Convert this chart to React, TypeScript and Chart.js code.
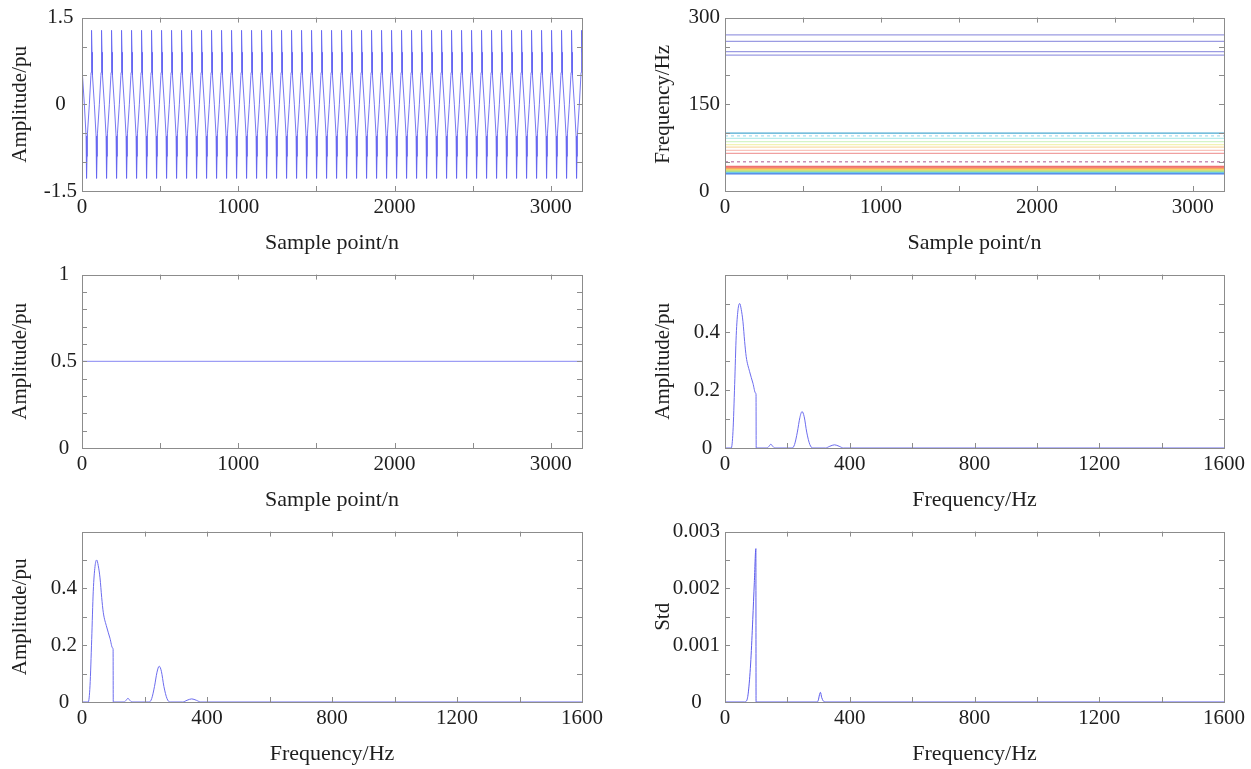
import React, { useEffect, useRef } from "react";
import { Chart, registerables } from "chart.js";

Chart.register(...registerables);

// ---------------- data ----------------
const sampleAxisMax = 3200;
const freqAxisMax = 1600;

// One period (64 samples) of the measured waveform; the signal repeats 50 times.
const wavePeriod = 64;
const waveCycles = 50;
const waveCycleOffsets = [0, 1, 2, 3, 4, 5, 15, 25, 26, 27, 28, 29, 30, 31, 32, 33, 34, 35, 36, 37, 47, 57, 58, 59, 60, 61, 62, 63];
const waveCycleValues = [0.9, 0.57, 0.56, 0.56, 0.55, 0.5, 0, -0.5, -0.55, -0.56, -0.56, -0.57, -0.9, -1.28, -0.9, -0.57, -0.56, -0.56, -0.55, -0.5, 0, 0.5, 0.55, 0.56, 0.56, 0.57, 0.9, 1.28];

// Middle-left: constant amplitude
const constSamples = [0, 3200];
const constValues = [0.5, 0.5];

// Top-right: frequency traces (Hz)
const freqUpper = [270, 259, 241, 235];
const freqUpperColor = "#9b9be2";
const freqLower = [100, 95.5, 91, 85.4, 80.3, 75.8, 70.2, 65.2, 50.6, 42.1, 39.3, 37.1, 34.8, 32.6, 30.3];
const freqLowerColors = ["#4aa8d0", "#a8e0f0", "#b8ecec", "#d4f4c8", "#f2f2b4", "#f8dca8", "#f8c4bc", "#f0a0a0", "#c890b8", "#f07070", "#f8a860", "#f0e070", "#a8e090", "#70c8e8", "#5080e8"];
const freqLowerDashed = [false, true, false, false, false, false, false, false, true, false, false, false, false, false, false];

// Amplitude spectrum (Hz, pu)
const specFreq = [0, 20, 25.6, 31, 36, 41.6, 47, 52, 57.6, 63, 68, 79, 89.6, 98, 99.5, 100, 135, 141, 147, 153, 160, 215, 223, 232, 240, 247, 254, 262, 272, 282, 322, 336, 351, 366, 380, 1600];
const specAmp = [0, 0, 0.057, 0.22, 0.39, 0.477, 0.5, 0.48, 0.437, 0.368, 0.316, 0.264, 0.224, 0.19, 0.187, 0, 0, 0.006, 0.013, 0.006, 0, 0, 0.012, 0.055, 0.105, 0.126, 0.108, 0.055, 0.012, 0, 0, 0.006, 0.011, 0.006, 0, 0];

// Standard deviation spectrum
const stdFreq = [0, 62, 70, 76, 83, 89, 94, 99, 99.6, 296, 300, 303, 306, 310, 315, 320, 1600];
const stdVal = [0, 0, 0.00003, 0.00023, 0.00075, 0.00145, 0.0021, 0.0027, 0, 0, 0.00005, 0.00013, 0.00017, 0.00008, 0.00002, 0, 0];

// Tick positions and the labelled subset
const sampleTicks = [0, 500, 1000, 1500, 2000, 2500, 3000];
const sampleTickLabels = [0, 1000, 2000, 3000];
const freqTicks = [0, 200, 400, 600, 800, 1000, 1200, 1400, 1600];
const freqTickLabels = [0, 400, 800, 1200, 1600];
const waveTicks = [-1.5, -1, -0.5, 0, 0.5, 1, 1.5];
const waveTickLabels = [-1.5, 0, 1.5];
const freqHzTicks = [0, 50, 100, 150, 200, 250, 300];
const freqHzTickLabels = [0, 150, 300];
const constTicks = [0, 0.1, 0.2, 0.3, 0.4, 0.5, 0.6, 0.7, 0.8, 0.9, 1];
const constTickLabels = [0, 0.5, 1];
const specTicks = [0, 0.1, 0.2, 0.3, 0.4, 0.5, 0.6];
const specTickLabels = [0, 0.2, 0.4];
const stdTicks = [0, 0.0005, 0.001, 0.0015, 0.002, 0.0025, 0.003];
const stdTickLabels = [0, 0.001, 0.002, 0.003];

// ---------------- styling ----------------
const FONT = "'Liberation Serif', 'Times New Roman', serif";
const TEXT = "#1e1e1e";
const BOX = "#8c8c8c";

const boxPlugin = {
  id: "matlabBox",
  afterDatasetsDraw(chart: any) {
    const { ctx, chartArea: a, scales } = chart;
    const xs = scales.x;
    const ys = scales.y;
    const tl = 5;
    ctx.save();
    ctx.strokeStyle = BOX;
    ctx.lineWidth = 1;
    ctx.beginPath();
    xs.ticks.forEach((t: any) => {
      const px = Math.round(xs.getPixelForValue(t.value)) + 0.5;
      if (px <= a.left + 2 || px >= a.right - 2) return;
      ctx.moveTo(px, a.bottom);
      ctx.lineTo(px, a.bottom - tl);
      ctx.moveTo(px, a.top);
      ctx.lineTo(px, a.top + tl);
    });
    ys.ticks.forEach((t: any) => {
      const py = Math.round(ys.getPixelForValue(t.value)) + 0.5;
      if (py <= a.top + 2 || py >= a.bottom - 2) return;
      ctx.moveTo(a.left, py);
      ctx.lineTo(a.left + tl, py);
      ctx.moveTo(a.right, py);
      ctx.lineTo(a.right - tl, py);
    });
    ctx.stroke();
    ctx.strokeRect(Math.round(a.left) + 0.5, Math.round(a.top) + 0.5, Math.round(a.right - a.left), Math.round(a.bottom - a.top));
    ctx.restore();
  },
};

const near = (v: number, list: number[]) => list.some((l) => Math.abs(v - l) < 1e-9);

function fmt(v: number) {
  if (Math.abs(v) < 1e-12) return "0";
  return String(parseFloat(v.toPrecision(6)));
}

type PanelSpec = {
  datasets: any[];
  xMax: number;
  xTicks: number[];
  xLabels: number[];
  xTitle: string;
  yMin: number;
  yMax: number;
  yTicks: number[];
  yLabels: number[];
  yTitle: string;
};

const Y_W = 82;
const X_H = 66;

function buildConfig(p: PanelSpec, padTop: number, padRight: number) {
  return {
    type: "line",
    data: { datasets: p.datasets },
    plugins: [boxPlugin],
    options: {
      animation: false,
      responsive: false,
      maintainAspectRatio: false,
      events: [],
      layout: { padding: { top: padTop, right: padRight, left: 0, bottom: 0 } },
      plugins: { legend: { display: false }, tooltip: { enabled: false } },
      elements: { point: { radius: 0 }, line: { borderWidth: 1, tension: 0 } },
      scales: {
        x: {
          type: "linear",
          min: 0,
          max: p.xMax,
          grid: { display: false, drawTicks: false },
          border: { display: false },
          afterBuildTicks: (s: any) => {
            s.ticks = p.xTicks.map((v) => ({ value: v }));
          },
          afterFit: (s: any) => {
            s.height = X_H;
          },
          ticks: {
            autoSkip: false,
            maxRotation: 0,
            padding: 4,
            color: TEXT,
            font: { family: FONT, size: 21 },
            callback: (v: any) => (near(Number(v), p.xLabels) ? fmt(Number(v)) : ""),
          },
          title: {
            display: true,
            text: p.xTitle,
            color: TEXT,
            font: { family: FONT, size: 22 },
            padding: { top: 0, bottom: 1 },
          },
        },
        y: {
          type: "linear",
          min: p.yMin,
          max: p.yMax,
          grid: { display: false, drawTicks: false },
          border: { display: false },
          afterBuildTicks: (s: any) => {
            s.ticks = p.yTicks.map((v) => ({ value: v }));
          },
          afterFit: (s: any) => {
            s.width = Y_W;
          },
          ticks: {
            autoSkip: false,
            padding: 5,
            crossAlign: "center",
            color: TEXT,
            font: { family: FONT, size: 21 },
            callback: (v: any) => (near(Number(v), p.yLabels) ? fmt(Number(v)) : ""),
          },
          title: {
            display: true,
            text: p.yTitle,
            color: TEXT,
            font: { family: FONT, size: 21 },
            padding: { top: 7.4, bottom: 0 },
          },
        },
      },
    },
  };
}

function wavePoints() {
  const pts: { x: number; y: number }[] = [];
  for (let c = 0; c < waveCycles; c++) {
    for (let i = 0; i < waveCycleOffsets.length; i++) {
      pts.push({ x: c * wavePeriod + waveCycleOffsets[i], y: waveCycleValues[i] });
    }
  }
  pts.push({ x: waveCycles * wavePeriod, y: waveCycleValues[0] });
  return pts;
}

const zip = (xs: number[], ys: number[]) => xs.map((x, i) => ({ x, y: ys[i] }));

function panels(): PanelSpec[] {
  const specDs = () => [
    { data: zip(specFreq, specAmp), borderColor: "#6c6cee", borderWidth: 1, cubicInterpolationMode: "monotone" },
  ];
  return [
    {
      datasets: [{ data: wavePoints(), borderColor: "#6666f0", borderWidth: 0.9 }],
      xMax: sampleAxisMax, xTicks: sampleTicks, xLabels: sampleTickLabels, xTitle: "Sample point/n",
      yMin: -1.5, yMax: 1.5, yTicks: waveTicks, yLabels: waveTickLabels, yTitle: "Amplitude/pu",
    },
    {
      datasets: [
        ...freqUpper.map((f) => ({ data: [{ x: 0, y: f }, { x: sampleAxisMax, y: f }], borderColor: freqUpperColor, borderWidth: 1.3 })),
        ...freqLower.map((f, i) => ({
          data: [{ x: 0, y: f }, { x: sampleAxisMax, y: f }],
          borderColor: freqLowerColors[i],
          borderWidth: i >= 9 ? 2 : 1.3,
          borderDash: freqLowerDashed[i] ? [3, 3] : [],
        })),
      ],
      xMax: sampleAxisMax, xTicks: sampleTicks, xLabels: sampleTickLabels, xTitle: "Sample point/n",
      yMin: 0, yMax: 300, yTicks: freqHzTicks, yLabels: freqHzTickLabels, yTitle: "Frequency/Hz",
    },
    {
      datasets: [{ data: zip(constSamples, constValues), borderColor: "#8585f2", borderWidth: 1 }],
      xMax: sampleAxisMax, xTicks: sampleTicks, xLabels: sampleTickLabels, xTitle: "Sample point/n",
      yMin: 0, yMax: 1, yTicks: constTicks, yLabels: constTickLabels, yTitle: "Amplitude/pu",
    },
    {
      datasets: specDs(),
      xMax: freqAxisMax, xTicks: freqTicks, xLabels: freqTickLabels, xTitle: "Frequency/Hz",
      yMin: 0, yMax: 0.6, yTicks: specTicks, yLabels: specTickLabels, yTitle: "Amplitude/pu",
    },
    {
      datasets: specDs(),
      xMax: freqAxisMax, xTicks: freqTicks, xLabels: freqTickLabels, xTitle: "Frequency/Hz",
      yMin: 0, yMax: 0.6, yTicks: specTicks, yLabels: specTickLabels, yTitle: "Amplitude/pu",
    },
    {
      datasets: [{ data: zip(stdFreq, stdVal), borderColor: "#5c5cec", borderWidth: 1, cubicInterpolationMode: "monotone" }],
      xMax: freqAxisMax, xTicks: freqTicks, xLabels: freqTickLabels, xTitle: "Frequency/Hz",
      yMin: 0, yMax: 0.003, yTicks: stdTicks, yLabels: stdTickLabels, yTitle: "Std",
    },
  ];
}

// canvas placement: [left, top, width, height, padTop, padRight]
const slots = [
  [0, 0, 640, 257, 17, 58],
  [643, 0, 608, 257, 17, 27],
  [0, 257, 640, 257, 17, 58],
  [643, 257, 608, 257, 17, 27],
  [0, 514, 640, 254, 14, 58],
  [643, 514, 608, 254, 14, 27],
];

function Panel({ spec, slot }: { spec: PanelSpec; slot: number[] }) {
  const ref = useRef<HTMLCanvasElement | null>(null);
  useEffect(() => {
    if (!ref.current) return;
    const chart = new Chart(ref.current, buildConfig(spec, slot[4], slot[5]) as any);
    return () => chart.destroy();
  }, []);
  return (
    <canvas
      ref={ref}
      width={slot[2]}
      height={slot[3]}
      style={{ position: "absolute", left: slot[0], top: slot[1], width: slot[2], height: slot[3] }}
    />
  );
}

export default function App() {
  const specs = panels();
  return (
    <div style={{ position: "absolute", left: 0, top: 0, width: 1251, height: 769, background: "#fff" }}>
      {specs.map((s, i) => (
        <Panel key={i} spec={s} slot={slots[i]} />
      ))}
    </div>
  );
}
